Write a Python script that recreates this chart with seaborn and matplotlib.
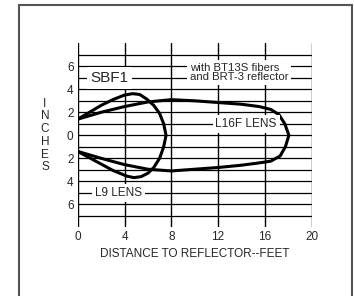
import matplotlib
matplotlib.use("Agg")
import matplotlib.pyplot as plt
import seaborn as sns
import pandas as pd
from matplotlib.lines import Line2D

sns.set_style("white")
plt.rcParams['font.family'] = ['Liberation Sans', 'DejaVu Sans']

# beam profile of the L9 lens (feet, inches)
l9_x = [0, 1, 2, 3, 4, 4.7, 5.3, 5.9, 6.5, 7.0, 7.35, 7.55,
        7.35, 7.0, 6.5, 6.0, 5.4, 4.8, 4.2, 3, 2, 1, 0]
l9_y = [1.4, 2.0, 2.6, 3.1, 3.5, 3.62, 3.55, 3.15, 2.6, 1.9, 1.0, 0,
        -1.0, -2.0, -2.8, -3.3, -3.6, -3.68, -3.55, -3.05, -2.5, -1.95, -1.4]

# beam profile of the L16F lens
l16_x = [0, 2, 4, 6, 8, 10, 12, 14, 15.5, 16.5, 17.2, 17.7, 18.05,
         17.75, 17.3, 16.5, 15.5, 14, 12, 10, 8, 6, 4, 2, 0]
l16_y = [1.4, 2.0, 2.5, 2.9, 3.1, 3.0, 2.85, 2.7, 2.5, 2.25, 1.8, 1.0, 0,
         -1.0, -1.8, -2.25, -2.4, -2.6, -2.8, -2.95, -3.1, -2.95, -2.55, -2.0, -1.4]

x_ticks = [0, 4, 8, 12, 16, 20]
y_ticks = [6, 4, 2, 0, -2, -4, -6]
y_tick_labels = ['6', '4', '2', '0', '2', '4', '6']

fig = plt.figure(figsize=(3.54, 2.96), dpi=100)
ax = fig.add_axes([77.7 / 354, 1 - 227.3 / 296, 234 / 354, 184 / 296])

# grid
for y in range(-7, 8):
    ax.plot([0, 20], [y, y], color='black', lw=0.9, zorder=1)
for x in x_ticks:
    ax.axvline(x, color='black', lw=1.0, zorder=1)

l9 = pd.DataFrame({'x': l9_x, 'y': l9_y})
l16 = pd.DataFrame({'x': l16_x, 'y': l16_y})
sns.lineplot(data=l9, x='x', y='y', sort=False, estimator=None, color='black',
             lw=2.2, ax=ax, zorder=3)
sns.lineplot(data=l16, x='x', y='y', sort=False, estimator=None, color='black',
             lw=2.2, ax=ax, zorder=3)

box = dict(facecolor='white', edgecolor='none', boxstyle='square,pad=0.25')
ax.text(2.73, 5, 'SBF1', fontsize=11, ha='center', va='center', bbox=box, zorder=4)
ax.text(9.56, 5.43, 'with BT13S fibers\nand BRT-3 reflector', fontsize=8.2,
        ha='left', va='center', linespacing=0.9, bbox=box, zorder=4)
ax.text(14.4, 1, 'L16F LENS', fontsize=8.6, ha='center', va='center', bbox=box, zorder=4)
ax.text(3.5, -5, 'L9 LENS', fontsize=8.5, ha='center', va='center', bbox=box, zorder=4)

ax.set_xlim(0, 20)
ax.set_ylim(-8, 8)
ax.set_xticks(x_ticks)
ax.set_xticklabels([str(t) for t in x_ticks], fontsize=8.5)
ax.set_yticks(y_ticks)
ax.set_yticklabels(y_tick_labels, fontsize=8.5)
ax.tick_params(length=0, pad=3)
for s in ax.spines.values():
    s.set_visible(False)
ax.set_xlabel('DISTANCE TO REFLECTOR--FEET', fontsize=8.5, labelpad=3)
ax.set_ylabel('')
fig.text(45 / 354, 1 - 135.5 / 296, '\n'.join('INCHES'), fontsize=8.5,
         ha='center', va='center', linespacing=1.08)

# frame around the figure (open at the bottom)
fc = '#555555'
fig.add_artist(Line2D([18.5 / 354, 18.5 / 354], [0, 1 - 5 / 296], color=fc, lw=1.5,
                      transform=fig.transFigure))
fig.add_artist(Line2D([18.5 / 354, 352 / 354], [1 - 5 / 296, 1 - 5 / 296], color=fc, lw=1.5,
                      transform=fig.transFigure))
fig.add_artist(Line2D([352 / 354, 352 / 354], [0, 1 - 5 / 296], color=fc, lw=1.5,
                      transform=fig.transFigure))

fig.savefig('out.png', dpi=100)
